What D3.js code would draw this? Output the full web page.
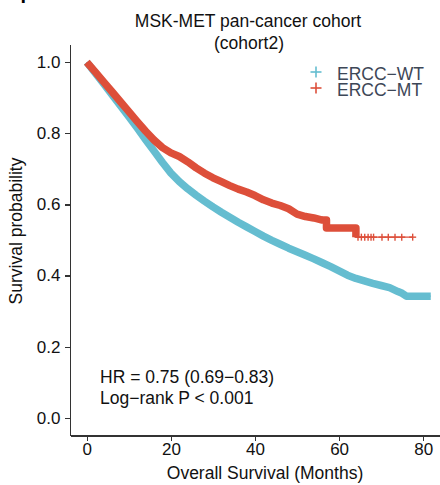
<!DOCTYPE html>
<html>
<head>
<meta charset="utf-8">
<script src="https://d3js.org/d3.v7.min.js"></script>
<style>
  body { margin: 0; background: #fff; }
  svg text { font-family: "Liberation Sans", Arial, Helvetica, sans-serif; }
  .axis path, .axis line { stroke: #333; stroke-width: 1.1; shape-rendering: crispEdges; }
  .axis text { font-size: 17px; fill: #111; }
  .title { font-size: 17.5px; text-anchor: middle; fill: #111; }
  .label { font-size: 17.5px; fill: #111; }
  .legend text { font-size: 17.5px; fill: #3d4757; }
  .band { fill: none; stroke-linejoin: round; stroke-linecap: butt; }
  .curve { fill: none; stroke-width: 1.3; }
  .censor { stroke-width: 1.4; }
</style>
</head>
<body>
<div id="chart"></div>
<script>
// ERCC-WT curve (months, survival probability)
var wtTime = [0, 2, 4, 6, 8, 10, 12, 14, 16, 18, 20, 22, 24, 26, 28, 30, 32, 34, 36, 38,
              40, 42, 44, 46, 48, 50, 52, 54, 56, 58, 60, 62, 64, 66, 68, 70, 72, 74, 75, 76, 81.8];
var wtSurv = [1.0, 0.970, 0.940, 0.909, 0.878, 0.847, 0.815, 0.782, 0.750, 0.718, 0.688, 0.664, 0.644, 0.626, 0.609, 0.593, 0.578, 0.564, 0.550, 0.537,
              0.524, 0.511, 0.499, 0.488, 0.477, 0.467, 0.457, 0.447, 0.436, 0.425, 0.413, 0.401, 0.392, 0.385, 0.378, 0.372, 0.366, 0.355, 0.350, 0.342, 0.342];

// ERCC-MT curve
var mtTime = [0, 2, 4, 6, 8, 10, 12, 14, 16, 18, 20, 22, 24, 26, 28, 30, 32, 34, 36, 38,
              40, 42, 44, 46, 48, 50, 52, 54, 56, 57, 57, 64, 64, 77.5];
var mtSurv = [1.0, 0.973, 0.945, 0.917, 0.889, 0.861, 0.833, 0.806, 0.781, 0.760, 0.745, 0.735, 0.720, 0.703, 0.688, 0.675, 0.664, 0.653, 0.643, 0.635,
              0.625, 0.613, 0.604, 0.597, 0.588, 0.573, 0.566, 0.562, 0.556, 0.556, 0.534, 0.534, 0.508, 0.508];
// sparse censoring marks in the ERCC-MT tail
var mtCensor = [64.5, 65.3, 66.1, 66.9, 67.6, 68.2, 70.2, 71.7, 73.3, 74.9, 77.5];

// where censoring is so dense it forms a solid band
var wtDenseEnd = 82, mtDenseEnd = 64;

var groups = ["ERCC\u2212WT", "ERCC\u2212MT"];
var colors = ["#65bdd0", "#dd4f3a"];
var xTicks = [0, 20, 40, 60, 80];
var yTicks = [0, 0.2, 0.4, 0.6, 0.8, 1.0];

var width = 440, height = 485;

var svg = d3.select("#chart").append("svg")
    .attr("width", width)
    .attr("height", height);

var x = d3.scaleLinear().domain([-4, 84]).range([70, 440]);
var y = d3.scaleLinear().domain([-0.05, 1.05]).range([435.5, 44.5]);

// cut-off panel letter at the very top
svg.append("text")
    .attr("x", 20.5)
    .attr("y", -1.5)
    .style("font-size", "20px")
    .style("font-weight", "bold")
    .text("p");

// title
svg.append("text").attr("class", "title").attr("x", 248).attr("y", 27)
    .text("MSK-MET pan-cancer cohort");
svg.append("text").attr("class", "title").attr("x", 249).attr("y", 48.5)
    .text("(cohort2)");

// axes
svg.append("g")
    .attr("class", "axis")
    .attr("transform", "translate(0,435.5)")
    .call(d3.axisBottom(x).tickValues(xTicks).tickSize(5).tickSizeOuter(0).tickPadding(2.5));

svg.append("g")
    .attr("class", "axis")
    .attr("transform", "translate(70,0)")
    .call(d3.axisLeft(y).tickValues(yTicks).tickFormat(d3.format(".1f"))
      .tickSize(5).tickSizeOuter(0).tickPadding(4.5));

svg.selectAll(".axis .domain").attr("stroke", "#333");

// axis titles
svg.append("text").attr("class", "label")
    .attr("x", 265).attr("y", 479)
    .attr("text-anchor", "middle")
    .text("Overall Survival (Months)");

svg.append("text").attr("class", "label")
    .attr("transform", "translate(22,231) rotate(-90)")
    .attr("text-anchor", "middle")
    .text("Survival probability");

// curves
var line = d3.line()
    .x(function(d) { return x(d[0]); })
    .y(function(d) { return y(d[1]); });

function pairs(t, s) {
  return t.map(function(d, i) { return [d, s[i]]; });
}

var series = [
  {pts: pairs(wtTime, wtSurv), dense: wtDenseEnd, color: colors[0], censor: []},
  {pts: pairs(mtTime, mtSurv), dense: mtDenseEnd, color: colors[1], censor: mtCensor}
];

series.forEach(function(s) {
  var bandPts = s.pts.filter(function(d) { return d[0] <= s.dense; });

  svg.append("path")
      .datum(bandPts)
      .attr("class", "band")
      .attr("stroke", s.color)
      .attr("stroke-width", 7.5)
      .attr("d", line);

  svg.append("path")
      .datum(s.pts)
      .attr("class", "curve")
      .attr("stroke", s.color)
      .attr("d", line);

  // survival at a censor time = last curve value at or before it
  var bis = d3.bisector(function(d) { return d[0]; }).right;
  var marks = svg.append("g");
  s.censor.forEach(function(t) {
    var p = s.pts[bis(s.pts, t) - 1];
    var cx = x(t), cy = y(p[1]);
    marks.append("line").attr("class", "censor").attr("stroke", s.color)
        .attr("x1", cx - 3.5).attr("x2", cx + 3.5).attr("y1", cy).attr("y2", cy);
    marks.append("line").attr("class", "censor").attr("stroke", s.color)
        .attr("x1", cx).attr("x2", cx).attr("y1", cy - 3.5).attr("y2", cy + 3.5);
  });
});

// annotation
svg.append("text").attr("class", "label").attr("x", 100).attr("y", 383)
    .text("HR = 0.75 (0.69\u22120.83)");
svg.append("text").attr("class", "label").attr("x", 100).attr("y", 404)
    .text("Log\u2212rank P < 0.001");

// legend
var legend = svg.append("g").attr("class", "legend");
groups.forEach(function(g, i) {
  var ly = 80 + i * 16;
  legend.append("line").attr("stroke", colors[i]).attr("stroke-width", 1.6)
      .attr("x1", 310.5).attr("x2", 321.5).attr("y1", ly - 8).attr("y2", ly - 8);
  legend.append("line").attr("stroke", colors[i]).attr("stroke-width", 1.6)
      .attr("x1", 316).attr("x2", 316).attr("y1", ly - 13.5).attr("y2", ly - 2.5);
  legend.append("text").attr("x", 337).attr("y", ly).text(g);
});
</script>
</body>
</html>
